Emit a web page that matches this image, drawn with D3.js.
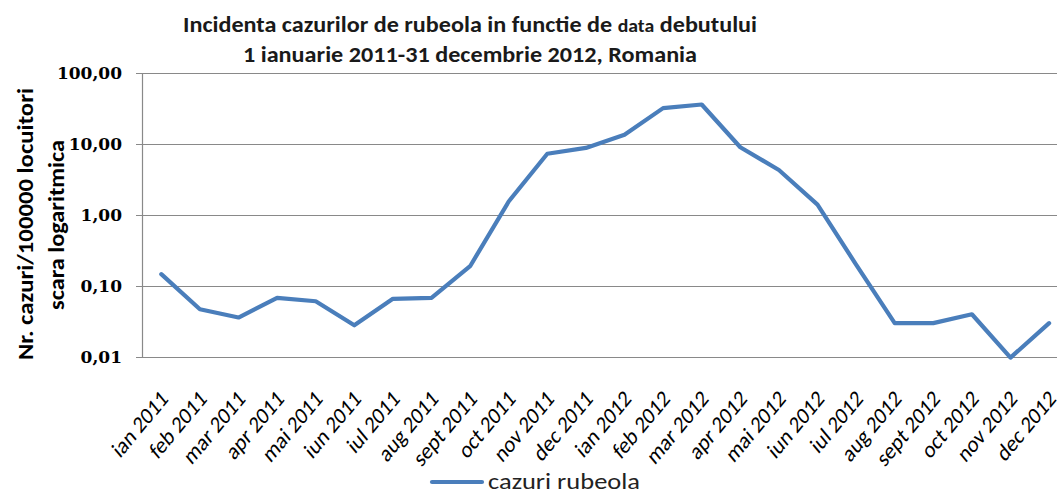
<!DOCTYPE html>
<html><head><meta charset="utf-8">
<script src="https://cdn.jsdelivr.net/npm/d3@7"></script>
<style>html,body{margin:0;padding:0;background:#fff;overflow:hidden}</style>
</head><body>
<svg id="chart" width="1057" height="492"></svg>
<script>
const months = ["ian 2011","feb 2011","mar 2011","apr 2011","mai 2011","iun 2011","iul 2011","aug 2011","sept 2011","oct 2011","nov 2011","dec 2011",
                "ian 2012","feb 2012","mar 2012","apr 2012","mai 2012","iun 2012","iul 2012","aug 2012","sept 2012","oct 2012","nov 2012","dec 2012"];
const rubeola = [0.147,0.047,0.036,0.068,0.061,0.028,0.066,0.068,0.19,1.55,7.3,8.8,
                 13.5,32,36,9.0,4.3,1.4,0.2,0.030,0.030,0.040,0.0098,0.030];
const yTicks = [0.01,0.1,1,10,100];
const titleLine1a = "Incidenta cazurilor de rubeola in functie de ";
const titleLine1b = "data";
const titleLine1c = " debutului";
const titleLine2 = "1 ianuarie 2011-31 decembrie 2012, Romania";
const yTitle1 = "Nr. cazuri/100000 locuitori";
const yTitle2 = "scara logaritmica";
const seriesName = "cazuri rubeola";

const svg = d3.select("#chart");
const plotLeft = 142, plotTop = 73, plotBottom = 357, band = 38.6;
const x = d3.scaleBand().domain(months).range([plotLeft, plotLeft + band*months.length]).paddingInner(0).paddingOuter(0);
const y = d3.scaleLog().domain([0.01,100]).range([plotBottom, plotTop]);
const fmt = v => d3.format(".2f")(v).replace(".", ",");
const cx = m => x(m) + x.bandwidth()/2;

// gridlines
svg.append("g").selectAll("line").data(yTicks).join("line")
  .attr("x1", 136).attr("x2", 1057)
  .attr("y1", d => Math.round(y(d))+0.5).attr("y2", d => Math.round(y(d))+0.5)
  .attr("stroke", "#898989").attr("stroke-width", 1.2);
// y axis line
svg.append("line").attr("x1", plotLeft+0.5).attr("x2", plotLeft+0.5).attr("y1", y(100)).attr("y2", y(0.01))
  .attr("stroke", "#898989").attr("stroke-width", 1.2);

// y tick labels
svg.append("g").selectAll("text").data(yTicks).join("text")
  .attr("x", 122).attr("y", d => y(d)).attr("dy", "0.35em")
  .attr("text-anchor", "end")
  .attr("font-family", "DejaVu Serif").attr("font-weight", "bold").attr("font-size", 17)
  .attr("fill", "#000")
  .text(fmt);

// x labels
svg.append("g").selectAll("text").data(months).join("text")
  .attr("transform", d => `translate(${cx(d)+3},394) scale(1,1.2) rotate(-45)`)
  .attr("text-anchor", "end").attr("dy", "0.35em")
  .attr("font-family", "Carlito, Lato, sans-serif").attr("font-size", 20)
  .attr("fill", "#000")
  .text(d => d);

// line
const line = d3.line().x((d,i) => cx(months[i])).y(d => y(d));
svg.append("path").datum(rubeola).attr("d", line)
  .attr("fill", "none").attr("stroke", "#4a7ebb").attr("stroke-width", 4.2)
  .attr("stroke-linejoin", "round").attr("stroke-linecap", "round");

// title
const t1 = svg.append("text").attr("x", 470).attr("y", 32).attr("text-anchor", "middle")
  .attr("font-family", "Carlito, Lato, sans-serif").attr("font-weight", "bold").attr("font-size", 22)
  .attr("fill", "#1a1a1a").attr("textLength", 574).attr("lengthAdjust", "spacingAndGlyphs");
t1.append("tspan").text(titleLine1a);
t1.append("tspan").attr("font-size", 18).text(titleLine1b);
t1.append("tspan").text(titleLine1c);
svg.append("text").attr("x", 470).attr("y", 62).attr("text-anchor", "middle")
  .attr("font-family", "Carlito, Lato, sans-serif").attr("font-weight", "bold").attr("font-size", 22)
  .attr("fill", "#1a1a1a").attr("textLength", 454).attr("lengthAdjust", "spacingAndGlyphs")
  .text(titleLine2);

// y title
svg.append("text").attr("transform", "translate(33,224) rotate(-90)").attr("text-anchor", "middle")
  .attr("font-family", "Carlito, Lato, sans-serif").attr("font-weight", "bold").attr("font-size", 22)
  .attr("fill", "#000").attr("textLength", 272).attr("lengthAdjust", "spacingAndGlyphs")
  .text(yTitle1);
svg.append("text").attr("transform", "translate(64,225) rotate(-90)").attr("text-anchor", "middle")
  .attr("font-family", "Carlito, Lato, sans-serif").attr("font-weight", "bold").attr("font-size", 22)
  .attr("fill", "#000").attr("textLength", 170).attr("lengthAdjust", "spacingAndGlyphs")
  .text(yTitle2);

// legend
svg.append("line").attr("x1", 432).attr("x2", 482).attr("y1", 482).attr("y2", 482)
  .attr("stroke", "#4a7ebb").attr("stroke-width", 4.2).attr("stroke-linecap", "round");
svg.append("text").attr("x", 488).attr("y", 489)
  .attr("font-family", "Carlito, Lato, sans-serif").attr("font-size", 22)
  .attr("fill", "#222").attr("textLength", 152).attr("lengthAdjust", "spacingAndGlyphs")
  .text(seriesName);
</script>
</body></html>
